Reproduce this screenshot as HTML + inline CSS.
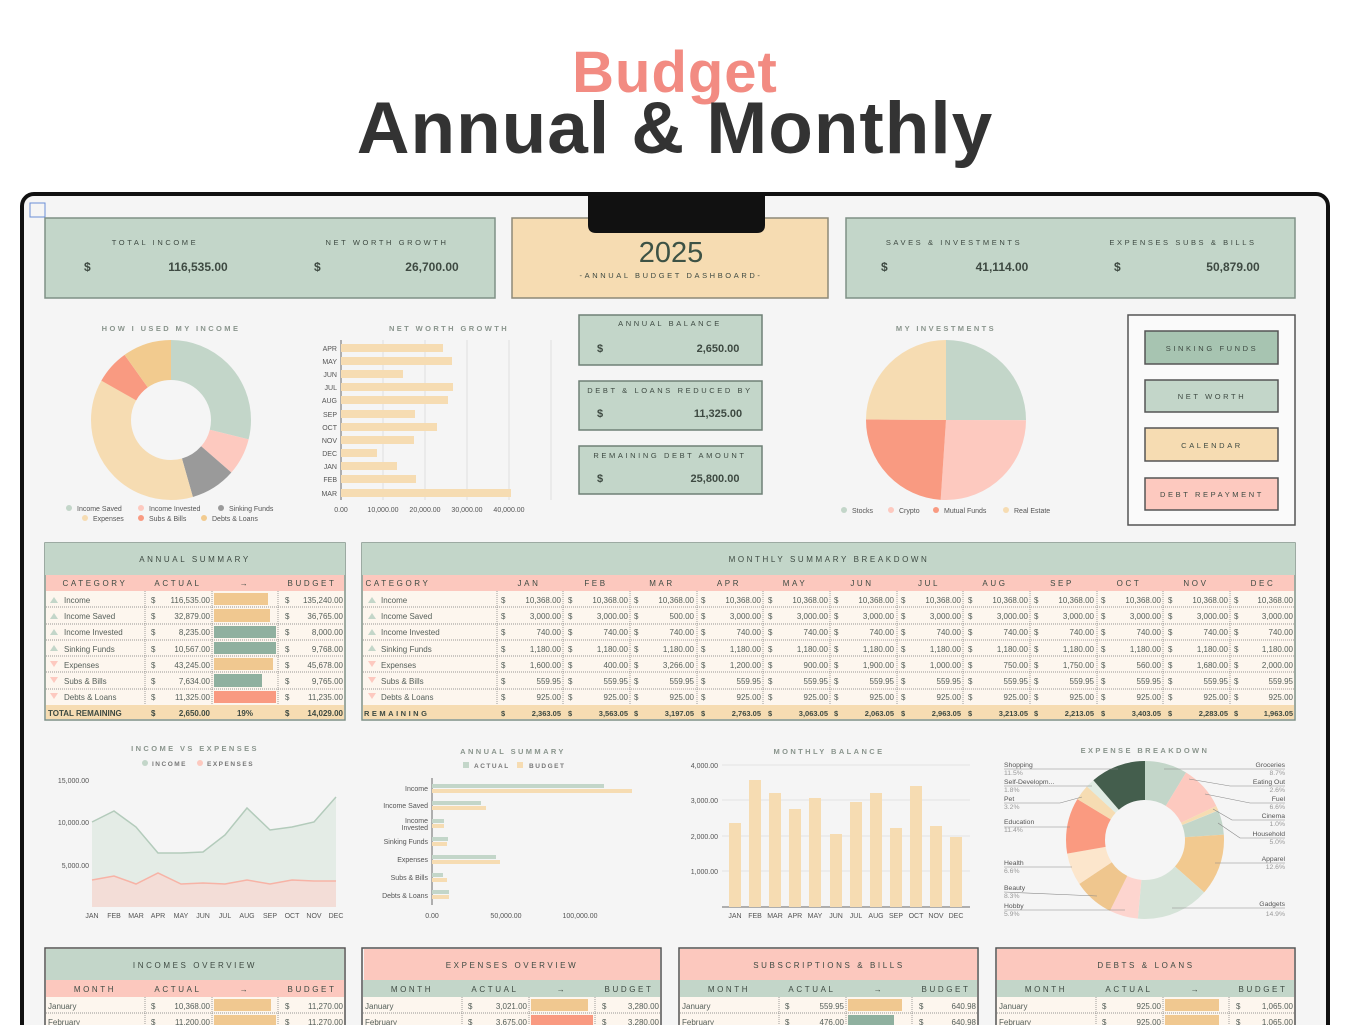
<!DOCTYPE html>
<html><head><meta charset="utf-8"><style>
html,body{margin:0;padding:0;background:#fff;width:1350px;height:1025px;overflow:hidden}
svg{display:block;font-family:"Liberation Sans",sans-serif}
.t{fill:#3e4a42}
.h{font-size:8px;letter-spacing:2.6px;fill:#3e4a42;text-anchor:middle}
.g{font-size:7.5px;letter-spacing:2.4px;fill:#8a958d;text-anchor:middle;font-weight:bold}
.c{font-size:8px;fill:#56605a}
.e{text-anchor:end}
.m{text-anchor:middle}
.s{font-size:7px;fill:#555}
.dl{stroke:#777;stroke-width:.7;stroke-dasharray:1 1}
</style></head><body>
<svg width="1350" height="1025" viewBox="0 0 1350 1025">
<text x="675" y="92" text-anchor="middle" font-size="58" font-weight="bold" fill="#f28b82" letter-spacing="1">Budget</text>
<text x="675" y="153" text-anchor="middle" font-size="73" font-weight="bold" fill="#333" letter-spacing="1">Annual &amp; Monthly</text>
<rect x="22" y="194" width="1306" height="860" rx="12" fill="#f5f5f5" stroke="#111" stroke-width="4"/>
<rect x="30" y="203" width="15" height="14" fill="none" stroke="#6b8fd6" stroke-width="1"/>

<!-- KPI cards -->
<rect x="45" y="218" width="450" height="80" fill="#c3d6c9" stroke="#7f9186" stroke-width="1.5"/>
<text class="h" x="155" y="245" style="font-size:7.5px">TOTAL INCOME</text>
<text x="84" y="271" class="t" font-size="12" font-weight="bold">$</text>
<text x="198" y="271" class="t m" font-size="12" font-weight="bold">116,535.00</text>
<text class="h" x="387" y="245" style="font-size:7.5px">NET WORTH GROWTH</text>
<text x="314" y="271" class="t" font-size="12" font-weight="bold">$</text>
<text x="432" y="271" class="t m" font-size="12" font-weight="bold">26,700.00</text>
<rect x="512" y="218" width="316" height="80" fill="#f6dcb2" stroke="#8d8a78" stroke-width="1.5"/>
<text x="671" y="262" class="m" font-size="29" fill="#3d5245">2025</text>
<text class="h" x="671" y="278" style="font-size:7.5px">-ANNUAL BUDGET DASHBOARD-</text>
<rect x="846" y="218" width="449" height="80" fill="#c3d6c9" stroke="#7f9186" stroke-width="1.5"/>
<text class="h" x="954" y="245" style="font-size:7.5px">SAVES &amp; INVESTMENTS</text>
<text x="881" y="271" class="t" font-size="12" font-weight="bold">$</text>
<text x="1002" y="271" class="t m" font-size="12" font-weight="bold">41,114.00</text>
<text class="h" x="1183" y="245" style="font-size:7.5px">EXPENSES SUBS &amp; BILLS</text>
<text x="1114" y="271" class="t" font-size="12" font-weight="bold">$</text>
<text x="1233" y="271" class="t m" font-size="12" font-weight="bold">50,879.00</text>
<path d="M588 195 H765 V225 Q765 233 757 233 H596 Q588 233 588 225 Z" fill="#111"/>

<!-- Donut income -->
<text class="g" x="171" y="331">HOW I USED MY INCOME</text>
<g transform="rotate(-90 171 420)" fill="none" stroke-width="40">
<circle cx="171" cy="420" r="60" stroke="#c3d6c9" stroke-dasharray="108.9 377" stroke-dashoffset="0"/>
<circle cx="171" cy="420" r="60" stroke="#fdc9bf" stroke-dasharray="28.3 377" stroke-dashoffset="-108.9"/>
<circle cx="171" cy="420" r="60" stroke="#9a9a9a" stroke-dasharray="34.6 377" stroke-dashoffset="-137.2"/>
<circle cx="171" cy="420" r="60" stroke="#f6dcb2" stroke-dasharray="141.8 377" stroke-dashoffset="-171.8"/>
<circle cx="171" cy="420" r="60" stroke="#f99a81" stroke-dasharray="26.2 377" stroke-dashoffset="-313.5"/>
<circle cx="171" cy="420" r="60" stroke="#f2cb8f" stroke-dasharray="37.3 377" stroke-dashoffset="-339.7"/>
</g>
<g class="s">
<circle cx="69" cy="508" r="3" fill="#c3d6c9"/><text x="77" y="511">Income Saved</text>
<circle cx="141" cy="508" r="3" fill="#fdc9bf"/><text x="149" y="511">Income Invested</text>
<circle cx="221" cy="508" r="3" fill="#9a9a9a"/><text x="229" y="511">Sinking Funds</text>
<circle cx="85" cy="518" r="3" fill="#f6dcb2"/><text x="93" y="521">Expenses</text>
<circle cx="141" cy="518" r="3" fill="#f99a81"/><text x="149" y="521">Subs &amp; Bills</text>
<circle cx="204" cy="518" r="3" fill="#f2cb8f"/><text x="212" y="521">Debts &amp; Loans</text>
</g>

<!-- Net worth bars -->
<text class="g" x="449" y="331">NET WORTH GROWTH</text>
<g stroke="#e0e0e0" stroke-width="1"><line x1="383" y1="340" x2="383" y2="500"/><line x1="425" y1="340" x2="425" y2="500"/><line x1="467" y1="340" x2="467" y2="500"/><line x1="509" y1="340" x2="509" y2="500"/><line x1="551" y1="340" x2="551" y2="500"/></g>
<line x1="341" y1="340" x2="341" y2="500" stroke="#666" stroke-width="1"/>
<g fill="#f6dcb2">
<rect x="341" y="344" width="102" height="8"/><rect x="341" y="357" width="111" height="8"/><rect x="341" y="370" width="62" height="8"/><rect x="341" y="383" width="112" height="8"/><rect x="341" y="396" width="107" height="8"/><rect x="341" y="410" width="74" height="8"/><rect x="341" y="423" width="96" height="8"/><rect x="341" y="436" width="73" height="8"/><rect x="341" y="449" width="36" height="8"/><rect x="341" y="462" width="56" height="8"/><rect x="341" y="475" width="75" height="8"/><rect x="341" y="489" width="170" height="8"/>
</g>
<g class="s e" font-size="7" fill="#444">
<text x="337" y="351">APR</text><text x="337" y="364">MAY</text><text x="337" y="377">JUN</text><text x="337" y="390">JUL</text><text x="337" y="403">AUG</text><text x="337" y="417">SEP</text><text x="337" y="430">OCT</text><text x="337" y="443">NOV</text><text x="337" y="456">DEC</text><text x="337" y="469">JAN</text><text x="337" y="482">FEB</text><text x="337" y="496">MAR</text>
</g>
<g class="s m"><text x="341" y="512">0.00</text><text x="383" y="512">10,000.00</text><text x="425" y="512">20,000.00</text><text x="467" y="512">30,000.00</text><text x="509" y="512">40,000.00</text></g>

<!-- middle cards -->
<g>
<rect x="579" y="315" width="183" height="50" fill="#c3d6c9" stroke="#6f8076" stroke-width="1.5"/>
<text class="h" x="670" y="326" style="font-size:7.5px">ANNUAL BALANCE</text>
<text x="597" y="352" class="t" font-size="11" font-weight="bold">$</text><text x="718" y="352" class="t m" font-size="11" font-weight="bold">2,650.00</text>
<rect x="579" y="381" width="183" height="49" fill="#c3d6c9" stroke="#6f8076" stroke-width="1.5"/>
<text class="h" x="670" y="393" style="font-size:7.5px">DEBT &amp; LOANS REDUCED BY</text>
<text x="597" y="417" class="t" font-size="11" font-weight="bold">$</text><text x="718" y="417" class="t m" font-size="11" font-weight="bold">11,325.00</text>
<rect x="579" y="446" width="183" height="48" fill="#c3d6c9" stroke="#6f8076" stroke-width="1.5"/>
<text class="h" x="670" y="458" style="font-size:7.5px">REMAINING DEBT AMOUNT</text>
<text x="597" y="482" class="t" font-size="11" font-weight="bold">$</text><text x="715" y="482" class="t m" font-size="11" font-weight="bold">25,800.00</text>
</g>

<!-- investments pie -->
<text class="g" x="946" y="331">MY INVESTMENTS</text>
<g transform="rotate(-90 946 420)" fill="none" stroke-width="80">
<circle cx="946" cy="420" r="40" stroke="#c3d6c9" stroke-dasharray="62.83 252" stroke-dashoffset="0"/>
<circle cx="946" cy="420" r="40" stroke="#fdc9bf" stroke-dasharray="65.35 252" stroke-dashoffset="-62.83"/>
<circle cx="946" cy="420" r="40" stroke="#f99a81" stroke-dasharray="60.32 252" stroke-dashoffset="-128.18"/>
<circle cx="946" cy="420" r="40" stroke="#f6dcb2" stroke-dasharray="62.83 252" stroke-dashoffset="-188.5"/>
</g>
<g class="s">
<circle cx="844" cy="510" r="3" fill="#c3d6c9"/><text x="852" y="513">Stocks</text>
<circle cx="891" cy="510" r="3" fill="#fdc9bf"/><text x="899" y="513">Crypto</text>
<circle cx="936" cy="510" r="3" fill="#f99a81"/><text x="944" y="513">Mutual Funds</text>
<circle cx="1006" cy="510" r="3" fill="#f6dcb2"/><text x="1014" y="513">Real Estate</text>
</g>

<!-- nav -->
<rect x="1128" y="315" width="167" height="210" fill="#fafafa" stroke="#555" stroke-width="1.5"/>
<rect x="1145" y="331" width="133" height="33" fill="#a7c4b1" stroke="#555" stroke-width="1.5"/>
<text class="h" x="1212" y="351" style="font-size:7.5px">SINKING FUNDS</text>
<rect x="1145" y="380" width="133" height="32" fill="#c3d6c9" stroke="#555" stroke-width="1.5"/>
<text class="h" x="1212" y="399" style="font-size:7.5px">NET WORTH</text>
<rect x="1145" y="428" width="133" height="33" fill="#f6dcb2" stroke="#555" stroke-width="1.5"/>
<text class="h" x="1212" y="448" style="font-size:7.5px">CALENDAR</text>
<rect x="1145" y="478" width="133" height="32" fill="#fdc9bf" stroke="#555" stroke-width="1.5"/>
<text class="h" x="1212" y="497" style="font-size:7.5px">DEBT REPAYMENT</text>

<!-- Annual summary table -->
<rect x="45" y="543" width="300" height="177" fill="#fdf6ee" stroke="#7f9186" stroke-width="1.5"/>
<rect x="45" y="543" width="300" height="32" fill="#c3d6c9"/>
<text class="h" x="195" y="562">ANNUAL SUMMARY</text>
<rect x="46" y="575" width="298" height="16" fill="#fcc8be"/>
<g class="h" style="font-size:8px"><text x="95" y="586">CATEGORY</text><text x="178" y="586">ACTUAL</text><text x="245" y="586">→</text><text x="312" y="586">BUDGET</text></g>
<g class="dl"><line x1="145" y1="591" x2="145" y2="705"/><line x1="212" y1="591" x2="212" y2="705"/><line x1="278" y1="591" x2="278" y2="705"/>
<line x1="46" y1="607" x2="344" y2="607"/><line x1="46" y1="624" x2="344" y2="624"/><line x1="46" y1="640" x2="344" y2="640"/><line x1="46" y1="656" x2="344" y2="656"/><line x1="46" y1="672" x2="344" y2="672"/><line x1="46" y1="689" x2="344" y2="689"/></g>
<g fill="#c3d6c9"><path d="M50 603 L54 597 L58 603Z"/><path d="M50 619 L54 613 L58 619Z"/><path d="M50 635 L54 629 L58 635Z"/><path d="M50 651 L54 645 L58 651Z"/></g>
<g fill="#fdc9bf"><path d="M50 661 L54 667 L58 661Z"/><path d="M50 677 L54 683 L58 677Z"/><path d="M50 693 L54 699 L58 693Z"/></g>
<g class="c">
<text x="64" y="603">Income</text><text x="64" y="619">Income Saved</text><text x="64" y="635">Income Invested</text><text x="64" y="652">Sinking Funds</text><text x="64" y="668">Expenses</text><text x="64" y="684">Subs &amp; Bills</text><text x="64" y="700">Debts &amp; Loans</text>
<text x="151" y="603">$</text><text x="151" y="619">$</text><text x="151" y="635">$</text><text x="151" y="652">$</text><text x="151" y="668">$</text><text x="151" y="684">$</text><text x="151" y="700">$</text>
<g class="e"><text x="210" y="603">116,535.00</text><text x="210" y="619">32,879.00</text><text x="210" y="635">8,235.00</text><text x="210" y="652">10,567.00</text><text x="210" y="668">43,245.00</text><text x="210" y="684">7,634.00</text><text x="210" y="700">11,325.00</text></g>
<text x="285" y="603">$</text><text x="285" y="619">$</text><text x="285" y="635">$</text><text x="285" y="652">$</text><text x="285" y="668">$</text><text x="285" y="684">$</text><text x="285" y="700">$</text>
<g class="e"><text x="343" y="603">135,240.00</text><text x="343" y="619">36,765.00</text><text x="343" y="635">8,000.00</text><text x="343" y="652">9,768.00</text><text x="343" y="668">45,678.00</text><text x="343" y="684">9,765.00</text><text x="343" y="700">11,235.00</text></g>
</g>
<rect x="214" y="593" width="54" height="12" fill="#f0c890"/><rect x="214" y="609" width="56" height="13" fill="#f0c890"/><rect x="214" y="626" width="62" height="12" fill="#8fb09f"/><rect x="214" y="642" width="62" height="12" fill="#8fb09f"/><rect x="214" y="658" width="59" height="12" fill="#f0c890"/><rect x="214" y="674" width="48" height="13" fill="#8fb09f"/><rect x="214" y="691" width="62" height="12" fill="#f99a81"/>
<rect x="46" y="705" width="298" height="14" fill="#f6dcb2"/>
<g class="t" font-size="8" font-weight="bold"><text x="48" y="716">TOTAL REMAINING</text><text x="151" y="716">$</text><text x="210" y="716" class="e">2,650.00</text><text x="245" y="716" class="m">19%</text><text x="285" y="716">$</text><text x="343" y="716" class="e">14,029.00</text></g>

<!-- Monthly table -->
<rect x="362" y="543" width="933" height="177" fill="#fdf6ee" stroke="#7f9186" stroke-width="1.5"/>
<rect x="362" y="543" width="933" height="32" fill="#c3d6c9"/>
<text class="h" x="829" y="562">MONTHLY SUMMARY BREAKDOWN</text>
<rect x="363" y="575" width="931" height="16" fill="#fcc8be"/>
<g class="h"><text x="398" y="586">CATEGORY</text><text x="529" y="586">JAN</text><text x="596" y="586">FEB</text><text x="662" y="586">MAR</text><text x="729" y="586">APR</text><text x="795" y="586">MAY</text><text x="862" y="586">JUN</text><text x="929" y="586">JUL</text><text x="995" y="586">AUG</text><text x="1062" y="586">SEP</text><text x="1129" y="586">OCT</text><text x="1196" y="586">NOV</text><text x="1263" y="586">DEC</text></g>
<g class="dl">
<line x1="497" y1="591" x2="497" y2="705"/><line x1="563" y1="591" x2="563" y2="705"/><line x1="630" y1="591" x2="630" y2="705"/><line x1="697" y1="591" x2="697" y2="705"/><line x1="763" y1="591" x2="763" y2="705"/><line x1="830" y1="591" x2="830" y2="705"/><line x1="897" y1="591" x2="897" y2="705"/><line x1="963" y1="591" x2="963" y2="705"/><line x1="1030" y1="591" x2="1030" y2="705"/><line x1="1097" y1="591" x2="1097" y2="705"/><line x1="1163" y1="591" x2="1163" y2="705"/><line x1="1230" y1="591" x2="1230" y2="705"/>
<line x1="363" y1="607" x2="1294" y2="607"/><line x1="363" y1="624" x2="1294" y2="624"/><line x1="363" y1="640" x2="1294" y2="640"/><line x1="363" y1="656" x2="1294" y2="656"/><line x1="363" y1="672" x2="1294" y2="672"/><line x1="363" y1="689" x2="1294" y2="689"/></g>
<g fill="#c3d6c9"><path d="M368 603 L372 597 L376 603Z"/><path d="M368 619 L372 613 L376 619Z"/><path d="M368 635 L372 629 L376 635Z"/><path d="M368 651 L372 645 L376 651Z"/></g>
<g fill="#fdc9bf"><path d="M368 661 L372 667 L376 661Z"/><path d="M368 677 L372 683 L376 677Z"/><path d="M368 693 L372 699 L376 693Z"/></g>
<g class="c">
<text x="381" y="603">Income</text><text x="381" y="619">Income Saved</text><text x="381" y="635">Income Invested</text><text x="381" y="652">Sinking Funds</text><text x="381" y="668">Expenses</text><text x="381" y="684">Subs &amp; Bills</text><text x="381" y="700">Debts &amp; Loans</text>
</g>
<g class="c" font-size="7.5">
<g>
<text x="501" y="603">$</text><text x="568" y="603">$</text><text x="634" y="603">$</text><text x="701" y="603">$</text><text x="768" y="603">$</text><text x="834" y="603">$</text><text x="901" y="603">$</text><text x="968" y="603">$</text><text x="1034" y="603">$</text><text x="1101" y="603">$</text><text x="1168" y="603">$</text><text x="1234" y="603">$</text>
<text x="501" y="619">$</text><text x="568" y="619">$</text><text x="634" y="619">$</text><text x="701" y="619">$</text><text x="768" y="619">$</text><text x="834" y="619">$</text><text x="901" y="619">$</text><text x="968" y="619">$</text><text x="1034" y="619">$</text><text x="1101" y="619">$</text><text x="1168" y="619">$</text><text x="1234" y="619">$</text>
<text x="501" y="635">$</text><text x="568" y="635">$</text><text x="634" y="635">$</text><text x="701" y="635">$</text><text x="768" y="635">$</text><text x="834" y="635">$</text><text x="901" y="635">$</text><text x="968" y="635">$</text><text x="1034" y="635">$</text><text x="1101" y="635">$</text><text x="1168" y="635">$</text><text x="1234" y="635">$</text>
<text x="501" y="652">$</text><text x="568" y="652">$</text><text x="634" y="652">$</text><text x="701" y="652">$</text><text x="768" y="652">$</text><text x="834" y="652">$</text><text x="901" y="652">$</text><text x="968" y="652">$</text><text x="1034" y="652">$</text><text x="1101" y="652">$</text><text x="1168" y="652">$</text><text x="1234" y="652">$</text>
<text x="501" y="668">$</text><text x="568" y="668">$</text><text x="634" y="668">$</text><text x="701" y="668">$</text><text x="768" y="668">$</text><text x="834" y="668">$</text><text x="901" y="668">$</text><text x="968" y="668">$</text><text x="1034" y="668">$</text><text x="1101" y="668">$</text><text x="1168" y="668">$</text><text x="1234" y="668">$</text>
<text x="501" y="684">$</text><text x="568" y="684">$</text><text x="634" y="684">$</text><text x="701" y="684">$</text><text x="768" y="684">$</text><text x="834" y="684">$</text><text x="901" y="684">$</text><text x="968" y="684">$</text><text x="1034" y="684">$</text><text x="1101" y="684">$</text><text x="1168" y="684">$</text><text x="1234" y="684">$</text>
<text x="501" y="700">$</text><text x="568" y="700">$</text><text x="634" y="700">$</text><text x="701" y="700">$</text><text x="768" y="700">$</text><text x="834" y="700">$</text><text x="901" y="700">$</text><text x="968" y="700">$</text><text x="1034" y="700">$</text><text x="1101" y="700">$</text><text x="1168" y="700">$</text><text x="1234" y="700">$</text>
</g>
<g class="e">
<text x="561" y="603">10,368.00</text><text x="628" y="603">10,368.00</text><text x="694" y="603">10,368.00</text><text x="761" y="603">10,368.00</text><text x="828" y="603">10,368.00</text><text x="894" y="603">10,368.00</text><text x="961" y="603">10,368.00</text><text x="1028" y="603">10,368.00</text><text x="1094" y="603">10,368.00</text><text x="1161" y="603">10,368.00</text><text x="1228" y="603">10,368.00</text><text x="1293" y="603">10,368.00</text>
<text x="561" y="619">3,000.00</text><text x="628" y="619">3,000.00</text><text x="694" y="619">500.00</text><text x="761" y="619">3,000.00</text><text x="828" y="619">3,000.00</text><text x="894" y="619">3,000.00</text><text x="961" y="619">3,000.00</text><text x="1028" y="619">3,000.00</text><text x="1094" y="619">3,000.00</text><text x="1161" y="619">3,000.00</text><text x="1228" y="619">3,000.00</text><text x="1293" y="619">3,000.00</text>
<text x="561" y="635">740.00</text><text x="628" y="635">740.00</text><text x="694" y="635">740.00</text><text x="761" y="635">740.00</text><text x="828" y="635">740.00</text><text x="894" y="635">740.00</text><text x="961" y="635">740.00</text><text x="1028" y="635">740.00</text><text x="1094" y="635">740.00</text><text x="1161" y="635">740.00</text><text x="1228" y="635">740.00</text><text x="1293" y="635">740.00</text>
<text x="561" y="652">1,180.00</text><text x="628" y="652">1,180.00</text><text x="694" y="652">1,180.00</text><text x="761" y="652">1,180.00</text><text x="828" y="652">1,180.00</text><text x="894" y="652">1,180.00</text><text x="961" y="652">1,180.00</text><text x="1028" y="652">1,180.00</text><text x="1094" y="652">1,180.00</text><text x="1161" y="652">1,180.00</text><text x="1228" y="652">1,180.00</text><text x="1293" y="652">1,180.00</text>
<text x="561" y="668">1,600.00</text><text x="628" y="668">400.00</text><text x="694" y="668">3,266.00</text><text x="761" y="668">1,200.00</text><text x="828" y="668">900.00</text><text x="894" y="668">1,900.00</text><text x="961" y="668">1,000.00</text><text x="1028" y="668">750.00</text><text x="1094" y="668">1,750.00</text><text x="1161" y="668">560.00</text><text x="1228" y="668">1,680.00</text><text x="1293" y="668">2,000.00</text>
<text x="561" y="684">559.95</text><text x="628" y="684">559.95</text><text x="694" y="684">559.95</text><text x="761" y="684">559.95</text><text x="828" y="684">559.95</text><text x="894" y="684">559.95</text><text x="961" y="684">559.95</text><text x="1028" y="684">559.95</text><text x="1094" y="684">559.95</text><text x="1161" y="684">559.95</text><text x="1228" y="684">559.95</text><text x="1293" y="684">559.95</text>
<text x="561" y="700">925.00</text><text x="628" y="700">925.00</text><text x="694" y="700">925.00</text><text x="761" y="700">925.00</text><text x="828" y="700">925.00</text><text x="894" y="700">925.00</text><text x="961" y="700">925.00</text><text x="1028" y="700">925.00</text><text x="1094" y="700">925.00</text><text x="1161" y="700">925.00</text><text x="1228" y="700">925.00</text><text x="1293" y="700">925.00</text>
</g></g>
<rect x="363" y="705" width="931" height="14" fill="#f6dcb2"/>
<g class="t" font-size="7.5" font-weight="bold">
<text x="364" y="716" letter-spacing="2.5">REMAINING</text>
<text x="501" y="716">$</text><text x="568" y="716">$</text><text x="634" y="716">$</text><text x="701" y="716">$</text><text x="768" y="716">$</text><text x="834" y="716">$</text><text x="901" y="716">$</text><text x="968" y="716">$</text><text x="1034" y="716">$</text><text x="1101" y="716">$</text><text x="1168" y="716">$</text><text x="1234" y="716">$</text>
<g class="e"><text x="561" y="716">2,363.05</text><text x="628" y="716">3,563.05</text><text x="694" y="716">3,197.05</text><text x="761" y="716">2,763.05</text><text x="828" y="716">3,063.05</text><text x="894" y="716">2,063.05</text><text x="961" y="716">2,963.05</text><text x="1028" y="716">3,213.05</text><text x="1094" y="716">2,213.05</text><text x="1161" y="716">3,403.05</text><text x="1228" y="716">2,283.05</text><text x="1293" y="716">1,963.05</text></g>
</g>

<!-- Income vs expenses -->
<text class="g" x="195" y="751">INCOME VS EXPENSES</text>
<circle cx="145" cy="763" r="3" fill="#c3d6c9"/><text x="152" y="766" font-size="6.5" font-weight="bold" fill="#777" letter-spacing="1.5">INCOME</text>
<circle cx="200" cy="763" r="3" fill="#fdc9bf"/><text x="207" y="766" font-size="6.5" font-weight="bold" fill="#777" letter-spacing="1.5">EXPENSES</text>
<g class="s e"><text x="89" y="783">15,000.00</text><text x="89" y="825">10,000.00</text><text x="89" y="868">5,000.00</text></g>
<path d="M92 822 L114 811 L136 827 L158 853 L181 853 L203 852 L225 835 L247 808 L270 830 L292 827 L314 822 L336 797 L336 907 L92 907Z" fill="#e4ece6"/>
<path d="M92 880 L114 876 L136 884 L158 873 L181 884 L203 883 L225 884 L247 880 L270 884 L292 880 L314 881 L336 881 L336 907 L92 907Z" fill="#f3ddd7"/>
<polyline points="92,822 114,811 136,827 158,853 181,853 203,852 225,835 247,808 270,830 292,827 314,822 336,797" fill="none" stroke="#b3cbbb" stroke-width="1.5"/>
<polyline points="92,880 114,876 136,884 158,873 181,884 203,883 225,884 247,880 270,884 292,880 314,881 336,881" fill="none" stroke="#f7b3a6" stroke-width="1.5"/>
<g class="s m"><text x="92" y="918">JAN</text><text x="114" y="918">FEB</text><text x="136" y="918">MAR</text><text x="158" y="918">APR</text><text x="181" y="918">MAY</text><text x="203" y="918">JUN</text><text x="225" y="918">JUL</text><text x="247" y="918">AUG</text><text x="270" y="918">SEP</text><text x="292" y="918">OCT</text><text x="314" y="918">NOV</text><text x="336" y="918">DEC</text></g>

<!-- Annual summary hbars -->
<text class="g" x="513" y="754">ANNUAL SUMMARY</text>
<rect x="463" y="762" width="6" height="6" fill="#c3d6c9"/><text x="474" y="768" font-size="6.5" font-weight="bold" fill="#777" letter-spacing="1.5">ACTUAL</text>
<rect x="517" y="762" width="6" height="6" fill="#f6dcb2"/><text x="529" y="768" font-size="6.5" font-weight="bold" fill="#777" letter-spacing="1.5">BUDGET</text>
<line x1="432" y1="778" x2="432" y2="905" stroke="#666"/>
<g fill="#c3d6c9"><rect x="432" y="784" width="172" height="4"/><rect x="432" y="801" width="49" height="4"/><rect x="432" y="819" width="12" height="4"/><rect x="432" y="837" width="16" height="4"/><rect x="432" y="855" width="64" height="4"/><rect x="432" y="873" width="11" height="4"/><rect x="432" y="890" width="17" height="4"/></g>
<g fill="#f6dcb2"><rect x="432" y="789" width="200" height="4"/><rect x="432" y="806" width="54" height="4"/><rect x="432" y="824" width="12" height="4"/><rect x="432" y="842" width="15" height="4"/><rect x="432" y="860" width="68" height="4"/><rect x="432" y="878" width="15" height="4"/><rect x="432" y="895" width="17" height="4"/></g>
<g class="s e" font-size="6.5"><text x="428" y="791">Income</text><text x="428" y="808">Income Saved</text><text x="428" y="823">Income</text><text x="428" y="830">Invested</text><text x="428" y="844">Sinking Funds</text><text x="428" y="862">Expenses</text><text x="428" y="880">Subs &amp; Bills</text><text x="428" y="898">Debts &amp; Loans</text></g>
<g class="s m"><text x="432" y="918">0.00</text><text x="506" y="918">50,000.00</text><text x="580" y="918">100,000.00</text></g>

<!-- Monthly balance -->
<text class="g" x="829" y="754">MONTHLY BALANCE</text>
<g stroke="#e3e3e3"><line x1="722" y1="765" x2="970" y2="765"/><line x1="722" y1="800" x2="970" y2="800"/><line x1="722" y1="836" x2="970" y2="836"/><line x1="722" y1="871" x2="970" y2="871"/></g>
<line x1="722" y1="907" x2="970" y2="907" stroke="#666"/>
<g class="s e"><text x="718" y="768">4,000.00</text><text x="718" y="803">3,000.00</text><text x="718" y="839">2,000.00</text><text x="718" y="874">1,000.00</text></g>
<g fill="#f6dcb2"><rect x="729" y="823" width="12" height="84"/><rect x="749" y="780" width="12" height="127"/><rect x="769" y="793" width="12" height="114"/><rect x="789" y="809" width="12" height="98"/><rect x="809" y="798" width="12" height="109"/><rect x="830" y="834" width="12" height="73"/><rect x="850" y="802" width="12" height="105"/><rect x="870" y="793" width="12" height="114"/><rect x="890" y="828" width="12" height="79"/><rect x="910" y="786" width="12" height="121"/><rect x="930" y="826" width="12" height="81"/><rect x="950" y="837" width="12" height="70"/></g>
<g class="s m"><text x="735" y="918">JAN</text><text x="755" y="918">FEB</text><text x="775" y="918">MAR</text><text x="795" y="918">APR</text><text x="815" y="918">MAY</text><text x="836" y="918">JUN</text><text x="856" y="918">JUL</text><text x="876" y="918">AUG</text><text x="896" y="918">SEP</text><text x="916" y="918">OCT</text><text x="936" y="918">NOV</text><text x="956" y="918">DEC</text></g>

<!-- Expense breakdown -->
<text class="g" x="1145" y="753">EXPENSE BREAKDOWN</text>
<g transform="rotate(-90 1145 840)" fill="none" stroke-width="39">
<circle cx="1145" cy="840" r="59.5" stroke="#c3d6c9" stroke-dasharray="32.5 374" stroke-dashoffset="0"/>
<circle cx="1145" cy="840" r="59.5" stroke="#fdc9bf" stroke-dasharray="34.4 374" stroke-dashoffset="-32.5"/>
<circle cx="1145" cy="840" r="59.5" stroke="#f6dcb2" stroke-dasharray="3.7 374" stroke-dashoffset="-66.9"/>
<circle cx="1145" cy="840" r="59.5" stroke="#c3d6c9" stroke-dasharray="18.7 374" stroke-dashoffset="-70.7"/>
<circle cx="1145" cy="840" r="59.5" stroke="#f2c98f" stroke-dasharray="47.1 374" stroke-dashoffset="-89.4"/>
<circle cx="1145" cy="840" r="59.5" stroke="#d5e3d8" stroke-dasharray="55.7 374" stroke-dashoffset="-136.5"/>
<circle cx="1145" cy="840" r="59.5" stroke="#fdd5cf" stroke-dasharray="22.1 374" stroke-dashoffset="-192.2"/>
<circle cx="1145" cy="840" r="59.5" stroke="#efc68e" stroke-dasharray="31 374" stroke-dashoffset="-214.2"/>
<circle cx="1145" cy="840" r="59.5" stroke="#fce6cc" stroke-dasharray="24.7 374" stroke-dashoffset="-245.3"/>
<circle cx="1145" cy="840" r="59.5" stroke="#fa9a80" stroke-dasharray="42.6 374" stroke-dashoffset="-270"/>
<circle cx="1145" cy="840" r="59.5" stroke="#f6dcb2" stroke-dasharray="12 374" stroke-dashoffset="-312.6"/>
<circle cx="1145" cy="840" r="59.5" stroke="#e0ece3" stroke-dasharray="6.7 374" stroke-dashoffset="-324.5"/>
<circle cx="1145" cy="840" r="59.5" stroke="#445e4d" stroke-dasharray="43 374" stroke-dashoffset="-331.3"/>
</g>
<g fill="none" stroke="#888" stroke-width=".6">
<path d="M1004 769 H1118"/><path d="M1004 786 H1092"/><path d="M1004 803 H1060 L1082 797"/><path d="M1004 827 H1070"/><path d="M1004 867 H1072"/><path d="M1004 892 L1097 896"/><path d="M1004 910 H1125"/>
<path d="M1285 769 H1164"/><path d="M1285 786 H1230 L1189 779"/><path d="M1285 803 H1250 L1205 794"/><path d="M1285 820 H1232 L1213 809"/><path d="M1285 838 H1240 L1218 823"/><path d="M1285 863 H1215"/><path d="M1285 908 H1172"/>
</g>
<g font-size="6.8" fill="#555">
<text x="1004" y="767">Shopping</text><text x="1004" y="775" fill="#999">11.5%</text>
<text x="1004" y="784">Self-Developm...</text><text x="1004" y="792" fill="#999">1.8%</text>
<text x="1004" y="801">Pet</text><text x="1004" y="809" fill="#999">3.2%</text>
<text x="1004" y="824">Education</text><text x="1004" y="832" fill="#999">11.4%</text>
<text x="1004" y="865">Health</text><text x="1004" y="873" fill="#999">6.6%</text>
<text x="1004" y="890">Beauty</text><text x="1004" y="898" fill="#999">8.3%</text>
<text x="1004" y="908">Hobby</text><text x="1004" y="916" fill="#999">5.9%</text>
<g class="e"><text x="1285" y="767">Groceries</text><text x="1285" y="775" fill="#999">8.7%</text>
<text x="1285" y="784">Eating Out</text><text x="1285" y="792" fill="#999">2.6%</text>
<text x="1285" y="801">Fuel</text><text x="1285" y="809" fill="#999">6.6%</text>
<text x="1285" y="818">Cinema</text><text x="1285" y="826" fill="#999">1.0%</text>
<text x="1285" y="836">Household</text><text x="1285" y="844" fill="#999">5.0%</text>
<text x="1285" y="861">Apparel</text><text x="1285" y="869" fill="#999">12.6%</text>
<text x="1285" y="906">Gadgets</text><text x="1285" y="916" fill="#999">14.9%</text></g>
</g>

<!-- Bottom tables -->
<g>
<rect x="45" y="948" width="300" height="90" fill="#fdf6ee" stroke="#555" stroke-width="1.5"/>
<rect x="46" y="949" width="298" height="31" fill="#c3d6c9"/><text class="h" x="195" y="968">INCOMES OVERVIEW</text>
<rect x="46" y="980" width="298" height="17" fill="#fcc8be"/>
<g class="h"><text x="95" y="992">MONTH</text><text x="178" y="992">ACTUAL</text><text x="245" y="992">→</text><text x="312" y="992">BUDGET</text></g>
<rect x="364" y="949" width="296" height="31" fill="#fcc8be"/>
<rect x="362" y="948" width="299" height="90" fill="none" stroke="#555" stroke-width="1.5"/>
<rect x="363" y="980" width="297" height="17" fill="#c3d6c9"/>
<rect x="363" y="997" width="297" height="40" fill="#fdf6ee"/>
<text class="h" x="512" y="968">EXPENSES OVERVIEW</text>
<g class="h"><text x="412" y="992">MONTH</text><text x="495" y="992">ACTUAL</text><text x="562" y="992">→</text><text x="629" y="992">BUDGET</text></g>
<rect x="679" y="948" width="299" height="90" fill="#fdf6ee" stroke="#555" stroke-width="1.5"/>
<rect x="680" y="949" width="297" height="31" fill="#fcc8be"/><text class="h" x="829" y="968">SUBSCRIPTIONS &amp; BILLS</text>
<rect x="680" y="980" width="297" height="17" fill="#c3d6c9"/>
<g class="h"><text x="729" y="992">MONTH</text><text x="812" y="992">ACTUAL</text><text x="879" y="992">→</text><text x="946" y="992">BUDGET</text></g>
<rect x="996" y="948" width="299" height="90" fill="#fdf6ee" stroke="#555" stroke-width="1.5"/>
<rect x="997" y="949" width="297" height="31" fill="#fcc8be"/><text class="h" x="1146" y="968">DEBTS &amp; LOANS</text>
<rect x="997" y="980" width="297" height="17" fill="#c3d6c9"/>
<g class="h"><text x="1046" y="992">MONTH</text><text x="1129" y="992">ACTUAL</text><text x="1196" y="992">→</text><text x="1263" y="992">BUDGET</text></g>
<g class="dl">
<line x1="46" y1="1013" x2="344" y2="1013"/><line x1="363" y1="1013" x2="660" y2="1013"/><line x1="680" y1="1013" x2="977" y2="1013"/><line x1="997" y1="1013" x2="1294" y2="1013"/>
<line x1="145" y1="997" x2="145" y2="1025"/><line x1="212" y1="997" x2="212" y2="1025"/><line x1="278" y1="997" x2="278" y2="1025"/>
<line x1="462" y1="997" x2="462" y2="1025"/><line x1="529" y1="997" x2="529" y2="1025"/><line x1="595" y1="997" x2="595" y2="1025"/>
<line x1="779" y1="997" x2="779" y2="1025"/><line x1="846" y1="997" x2="846" y2="1025"/><line x1="912" y1="997" x2="912" y2="1025"/>
<line x1="1096" y1="997" x2="1096" y2="1025"/><line x1="1163" y1="997" x2="1163" y2="1025"/><line x1="1229" y1="997" x2="1229" y2="1025"/>
</g>
<rect x="214" y="999" width="57" height="12" fill="#f0c890"/><rect x="214" y="1015" width="62" height="12" fill="#f0c890"/>
<rect x="531" y="999" width="57" height="12" fill="#f0c890"/><rect x="531" y="1015" width="62" height="12" fill="#f99a81"/>
<rect x="848" y="999" width="54" height="12" fill="#f0c890"/><rect x="848" y="1015" width="46" height="12" fill="#8fb09f"/>
<rect x="1165" y="999" width="54" height="12" fill="#f0c890"/><rect x="1165" y="1015" width="54" height="12" fill="#f0c890"/>
<g class="c" font-size="7.5">
<text x="48" y="1009">January</text><text x="48" y="1025">February</text><text x="151" y="1009">$</text><text x="151" y="1025">$</text><text x="210" y="1009" class="e">10,368.00</text><text x="210" y="1025" class="e">11,200.00</text><text x="285" y="1009">$</text><text x="285" y="1025">$</text><text x="343" y="1009" class="e">11,270.00</text><text x="343" y="1025" class="e">11,270.00</text>
<text x="365" y="1009">January</text><text x="365" y="1025">February</text><text x="468" y="1009">$</text><text x="468" y="1025">$</text><text x="527" y="1009" class="e">3,021.00</text><text x="527" y="1025" class="e">3,675.00</text><text x="602" y="1009">$</text><text x="602" y="1025">$</text><text x="659" y="1009" class="e">3,280.00</text><text x="659" y="1025" class="e">3,280.00</text>
<text x="682" y="1009">January</text><text x="682" y="1025">February</text><text x="785" y="1009">$</text><text x="785" y="1025">$</text><text x="844" y="1009" class="e">559.95</text><text x="844" y="1025" class="e">476.00</text><text x="919" y="1009">$</text><text x="919" y="1025">$</text><text x="976" y="1009" class="e">640.98</text><text x="976" y="1025" class="e">640.98</text>
<text x="999" y="1009">January</text><text x="999" y="1025">February</text><text x="1102" y="1009">$</text><text x="1102" y="1025">$</text><text x="1161" y="1009" class="e">925.00</text><text x="1161" y="1025" class="e">925.00</text><text x="1236" y="1009">$</text><text x="1236" y="1025">$</text><text x="1293" y="1009" class="e">1,065.00</text><text x="1293" y="1025" class="e">1,065.00</text>
</g>
</g>
</svg>
</body></html>
